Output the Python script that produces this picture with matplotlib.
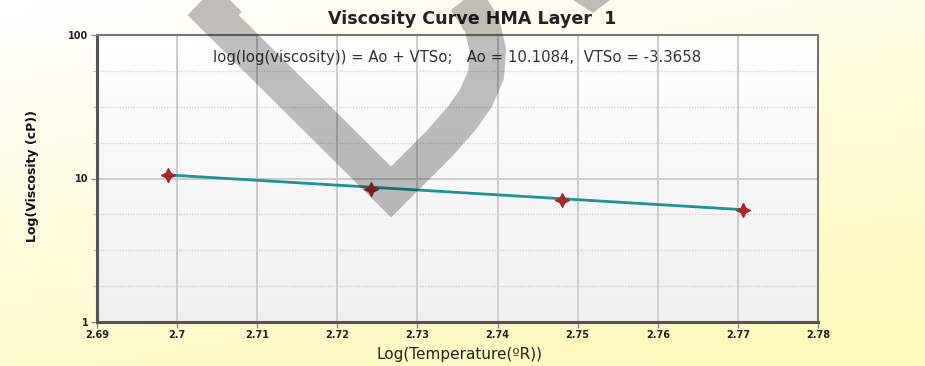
import numpy as np
import matplotlib
matplotlib.use("Agg")
from matplotlib import pyplot as plt
from matplotlib.path import Path
from matplotlib.patches import PathPatch, Polygon

# measured points (log of temperature in Rankine vs viscosity)
log_temp = [2.6989, 2.7242, 2.7481, 2.7707]
viscosity = [10.55, 8.50, 7.08, 5.99]

# fitted line end points
fit_x = [2.6989, 2.7707]
fit_y = [10.59, 6.06]

a0 = 10.1084
vts0 = -3.3658

x_ticks = [2.69, 2.70, 2.71, 2.72, 2.73, 2.74, 2.75, 2.76, 2.77, 2.78]
y_ticks = [1, 10, 100]
y_minor = [10 ** 0.25, 10 ** 0.5, 10 ** 0.75, 10 ** 1.25, 10 ** 1.5, 10 ** 1.75]

W, H = 925, 366
fig = plt.figure(figsize=(W / 100, H / 100), dpi=100)

# pale yellow background fading to white in the top-left corner
bg = fig.add_axes([0, 0, 1, 1], zorder=-10)
gy, gx = np.mgrid[0:1:200j, 0:1:400j]
t = np.clip(0.75 * gy + 0.35 * gx, 0, 1)[..., None]
white = np.array([1.0, 1.0, 1.0])
yellow = np.array([1.0, 0.975, 0.74])
bg.imshow(white * (1 - t) + yellow * t, aspect="auto", extent=[0, 1, 1, 0])
bg.set_xlim(0, 1)
bg.set_ylim(1, 0)
bg.axis("off")

ax = fig.add_axes([97 / W, 1 - 322 / H, (818 - 97) / W, (322 - 35) / H])
ax.set_facecolor("none")

# plot area: white to light grey gradient
grad = np.linspace(1.0, 0.94, 100)[:, None] * np.ones((100, 2))
ax.imshow(np.dstack([grad, grad, grad]), aspect="auto", extent=[0, 1, 0, 1],
          transform=ax.transAxes, zorder=0)

ax.set_yscale("log")
ax.set_xlim(2.69, 2.78)
ax.set_ylim(1, 100)

ax.set_xticks(x_ticks)
ax.set_xticklabels([f"{v:g}" for v in x_ticks])
ax.set_yticks(y_ticks)
ax.set_yticklabels([str(v) for v in y_ticks])
ax.set_yticks(y_minor, minor=True)
ax.set_yticklabels([], minor=True)

for v in x_ticks[1:-1]:
    ax.axvline(v, color="#cccccc", lw=1.4, zorder=1)
ax.axhline(10, color="#cccccc", lw=1.4, zorder=1)
for v in y_minor:
    ax.axhline(v, color="#d4d4d4", lw=1, ls=(0, (1, 1)), zorder=1)

ax.tick_params(axis="both", which="major", length=4, width=1, color="#888888",
               labelsize=7, pad=2)
ax.tick_params(axis="y", which="minor", length=3, width=0.8, color="#bbbbbb")
for lab in ax.get_xticklabels() + ax.get_yticklabels():
    lab.set_fontweight("bold")
    lab.set_color("#222222")

for side in ["left", "bottom"]:
    ax.spines[side].set_color("#555555")
    ax.spines[side].set_linewidth(2.2)
for side in ["top", "right"]:
    ax.spines[side].set_color("#777777")
    ax.spines[side].set_linewidth(1.5)

ax.plot(fit_x, fit_y, color="#169696", lw=2, zorder=3)

star = Path([(0, 1), (0.33, 0.33), (1, 0), (0.33, -0.33), (0, -1),
             (-0.33, -0.33), (-1, 0), (-0.33, 0.33), (0, 1)])
ax.plot(log_temp, viscosity, ls="none", marker=star, markersize=10,
        color="#a82828", zorder=4)

ax.text(0.5, 0.92, f"log(log(viscosity)) = Ao + VTSo;   Ao = {a0},  VTSo = {vts0}",
        transform=ax.transAxes, ha="center", va="center", fontsize=10.7,
        color="#333333", zorder=5)

fig.text(472 / W, 1 - 19 / H, "Viscosity Curve HMA Layer  1", ha="center",
         va="center", fontsize=12.6, fontweight="bold", color="#222222")
fig.text(33 / W, 1 - 176 / H, "Log(Viscosity (cP))", ha="center", va="center",
         rotation=90, fontsize=9, fontweight="bold", color="#111111")
fig.text(460 / W, 1 - 355 / H, "Log(Temperature(ºR))", ha="center",
         va="center", fontsize=11, color="#222222")

# translucent logo stroke drawn over everything
over = fig.add_axes([0, 0, 1, 1], zorder=20)
over.set_xlim(0, W)
over.set_ylim(H, 0)
over.axis("off")
over.patch.set_alpha(0)
logo = Path([(263, -35), (213, 15), (391, 192), (440, 143), (462, 118),
             (476, 98), (486, 75), (488, 50), (482, 25), (468, 3), (450, -20)])
over.add_patch(PathPatch(logo, fill=False, edgecolor=(0, 0, 0, 0.25),
                         lw=26, joinstyle="miter", capstyle="butt"))
over.add_patch(Polygon([(573, 0), (610, 0), (593, 13)], closed=True,
                       facecolor=(0, 0, 0, 0.25), edgecolor="none"))

fig.savefig("out.png", dpi=100)
